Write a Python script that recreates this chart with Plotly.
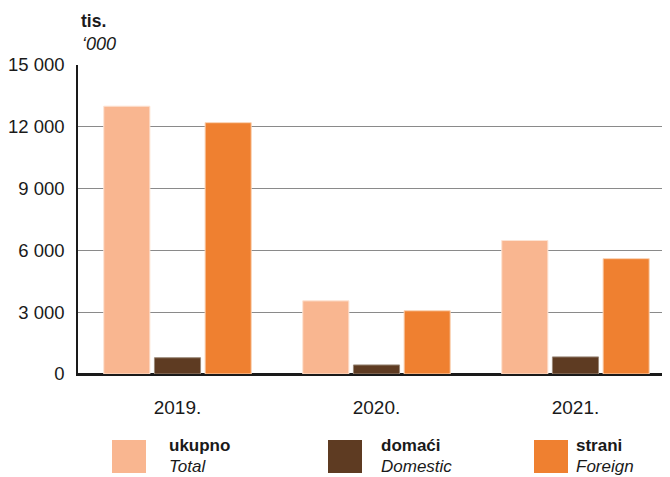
import plotly.graph_objects as go

years = ["2019.", "2020.", "2021."]
series_names = ["ukupno", "domaći", "strani"]
series_names_en = ["Total", "Domestic", "Foreign"]
ukupno = [13000, 3550, 6480]
domaci = [790, 440, 830]
strani = [12200, 3070, 5600]
y_ticks = [0, 3000, 6000, 9000, 12000, 15000]
y_tick_labels = ["0", "3 000", "6 000", "9 000", "12 000", "15 000"]
colors = ["#F9B690", "#5E3B22", "#EF8030"]

FONT = "Liberation Sans, Arial, sans-serif"

OFF = 8  # page body margin
W, H = 670 - OFF, 477 - OFF
L, R, T, B = 78 - OFF, 0, 65 - OFF, 477 - 374
pw, ph = W - L - R, H - T - B

def px(x):
    return (x - OFF - L) / pw

def py(y):
    return (H - B - (y - OFF)) / ph

fig = go.Figure()
line_cols = ["#FDE3D3", "#9A8878", "#FAD3B5"]
for name, vals, c, lc in zip(series_names, [ukupno, domaci, strani], colors, line_cols):
    fig.add_trace(go.Bar(x=years, y=vals, name=name, marker=dict(color=c, line=dict(color=lc, width=1)),
                         showlegend=False))

fig.update_layout(
    width=W, height=H,
    margin=dict(l=L, r=R, t=T, b=B),
    paper_bgcolor="white", plot_bgcolor="white",
    barmode="group", bargap=0.236, bargroupgap=0.09,
    font=dict(family=FONT, color="#1a1a1a", size=18),
    xaxis=dict(range=[-0.5, 2.475], showgrid=False, showline=True, linecolor="#1a1a1a", linewidth=1.5,
               ticks="outside", ticklen=15, tickcolor="rgba(0,0,0,0)", tickfont=dict(size=19, family=FONT)),
    yaxis=dict(range=[0, 15000], tickvals=y_ticks, ticktext=y_tick_labels, showgrid=True,
               gridcolor="#8a8a8a", gridwidth=1, showline=True, linecolor="#1a1a1a", linewidth=1.5,
               zeroline=True, zerolinecolor="#1a1a1a", zerolinewidth=1.5,
               ticks="outside", ticklen=8, tickcolor="rgba(0,0,0,0)", tickfont=dict(size=18.5, family=FONT)),
)

ann = [
    dict(x=px(79), y=py(21), text="<b>tis.</b>", font=dict(size=17.5, family=FONT, color="#1a1a1a")),
    dict(x=px(80), y=py(44), text="<i>‘000</i>", font=dict(size=18, family=FONT, color="#1a1a1a")),
]
sq_x = [112, 328, 534]
tx_x = [167, 379, 574]
for i in range(3):
    fig.add_shape(type="rect", xref="paper", yref="paper", x0=px(sq_x[i]), x1=px(sq_x[i] + 34),
                  y0=py(473), y1=py(440), fillcolor=colors[i], line=dict(width=0))
    ann.append(dict(x=px(tx_x[i]), y=py(445), text="<b>" + series_names[i] + "</b>",
                    font=dict(size=17, family=FONT, color="#1a1a1a")))
    ann.append(dict(x=px(tx_x[i]), y=py(466), text="<i>" + series_names_en[i] + "</i>",
                    font=dict(size=17, family=FONT, color="#1a1a1a")))
for a in ann:
    a.update(xref="paper", yref="paper", xanchor="left", yanchor="middle", showarrow=False)
fig.update_layout(annotations=ann)

fig.write_html("out.html")
